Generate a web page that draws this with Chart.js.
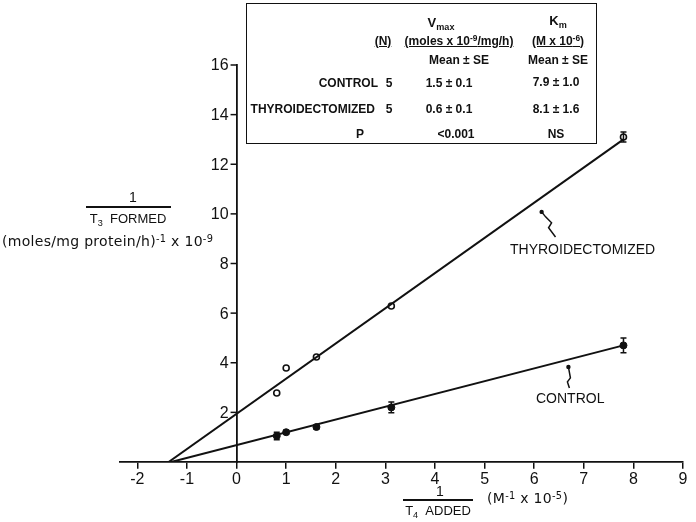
<!DOCTYPE html>
<html>
<head>
<meta charset="utf-8">
<script src="https://cdn.jsdelivr.net/npm/chart.js@4.4.1/dist/chart.umd.min.js"></script>
<style>
  body { margin: 0; background: #fff; }
  #wrap { position: relative; width: 696px; height: 522px; font-family: "Liberation Sans", Arial, sans-serif; color: #111; }
  canvas { position: absolute; left: 0; top: 0; }
  .t { position: absolute; white-space: nowrap; line-height: 1; }
  .b { font-weight: bold; font-size: 12px; }
  .c { transform: translateX(-50%); }
  .r { transform: translateX(-100%); }
  .u { text-decoration: underline; }
  .w { font-family: "DejaVu Sans", sans-serif; font-size: 14px; letter-spacing: 0.3px; }
  sup { font-size: 70%; vertical-align: 0.45em; line-height: 0; }
  sub { font-size: 70%; vertical-align: -0.3em; line-height: 0; }
  #table { position: absolute; left: 246px; top: 3px; width: 349px; height: 139px; border: 1.5px solid #111; }
  .bar { position: absolute; height: 1.5px; background: #111; }
</style>
</head>
<body>
<div id="wrap">
  <canvas id="chart" width="696" height="522"></canvas>

  <div id="table">
    <span class="t b c" style="left:194px;top:12px;font-size:13px">V<sub>max</sub></span>
    <span class="t b c" style="left:311px;top:10px;font-size:13px">K<sub>m</sub></span>
    <span class="t b c u" style="left:136px;top:31px">(N)</span>
    <span class="t b c" style="left:212px;top:31px"><span class="u">(moles x 10<sup>-9</sup>/mg/h)</span></span>
    <span class="t b c" style="left:311px;top:31px"><span class="u">(M x 10<sup>-6</sup>)</span></span>
    <span class="t b c" style="left:212px;top:50px">Mean ± SE</span>
    <span class="t b c" style="left:311px;top:50px">Mean ± SE</span>

    <span class="t b r" style="left:131px;top:73px">CONTROL</span>
    <span class="t b c" style="left:142px;top:73px">5</span>
    <span class="t b c" style="left:202px;top:73px">1.5 ± 0.1</span>
    <span class="t b c" style="left:309px;top:72px">7.9 ± 1.0</span>

    <span class="t b r" style="left:128px;top:99px">THYROIDECTOMIZED</span>
    <span class="t b c" style="left:142px;top:99px">5</span>
    <span class="t b c" style="left:202px;top:99px">0.6 ± 0.1</span>
    <span class="t b c" style="left:309px;top:99px">8.1 ± 1.6</span>

    <span class="t b c" style="left:113px;top:124px">P</span>
    <span class="t b c" style="left:209px;top:124px">&lt;0.001</span>
    <span class="t b c" style="left:309px;top:124px">NS</span>
  </div>

  <!-- y axis title -->
  <span class="t c" style="left:133px;top:190px;font-size:14px">1</span>
  <div class="bar" style="left:86px;top:206px;width:85px"></div>
  <span class="t c" style="left:128px;top:212px;font-size:13px">T<sub>3</sub>&nbsp;&nbsp;FORMED</span>
  <span class="t w" style="left:2px;top:234px">(moles/mg protein/h)<sup>-1</sup> x 10<sup>-9</sup></span>

  <!-- x axis title -->
  <span class="t c" style="left:440px;top:484px;font-size:14px">1</span>
  <div class="bar" style="left:403px;top:499px;width:70px"></div>
  <span class="t c" style="left:438px;top:504px;font-size:13px">T<sub>4</sub>&nbsp;&nbsp;ADDED</span>
  <span class="t w" style="left:487px;top:491px">(M<sup>-1</sup> x 10<sup>-5</sup>)</span>

  <!-- curve labels -->
  <span class="t" style="left:510px;top:242px;font-size:14px">THYROIDECTOMIZED</span>
  <span class="t" style="left:536px;top:391px;font-size:14px">CONTROL</span>
</div>

<script>
// Lineweaver-Burk data
const xTicks = [-2, -1, 0, 1, 2, 3, 4, 5, 6, 7, 8, 9];
const yTicks = [2, 4, 6, 8, 10, 12, 14, 16];

const thyroX = [0.81, 1.0, 1.61, 3.12, 7.8];
const thyroY = [2.78, 3.79, 4.23, 6.29, 13.1];
const thyroErr = [0, 0, 0, 0, 0.2];

const controlX = [0.81, 1.0, 1.61, 3.12, 7.8];
const controlY = [1.05, 1.2, 1.41, 2.2, 4.7];
const controlErr = [0.15, 0.08, 0.08, 0.22, 0.3];

// fitted regression lines (end points)
const thyroFitX = [-1.37, 7.8];
const thyroFitY = [0, 13.0];
const controlFitX = [-1.32, 7.8];
const controlFitY = [0, 4.7];

// squiggle pointers next to the curve labels
const thyroPointerX = [6.15, 6.23, 6.35, 6.29, 6.43];
const thyroPointerY = [10.08, 9.88, 9.64, 9.44, 9.07];
const controlPointerX = [6.69, 6.73, 6.67, 6.71];
const controlPointerY = [3.83, 3.39, 3.23, 2.98];

const ink = "#111";
const toXY = (xs, ys) => xs.map((x, i) => ({ x: x, y: ys[i] }));

// y axis sits at x = 0, so its ticks and labels are drawn here
const yAxisAtZero = {
  id: "yAxisAtZero",
  afterDraw(chart) {
    const { ctx, scales } = chart;
    const x0 = scales.x.getPixelForValue(0);
    ctx.save();
    ctx.strokeStyle = ink;
    ctx.fillStyle = ink;
    ctx.lineWidth = 1.5;
    ctx.font = "16px 'Liberation Sans'";
    ctx.textAlign = "right";
    ctx.textBaseline = "middle";
    yTicks.forEach((v) => {
      const py = scales.y.getPixelForValue(v);
      ctx.beginPath();
      ctx.moveTo(x0 - 6, py);
      ctx.lineTo(x0, py);
      ctx.stroke();
      ctx.fillText(String(v), x0 - 8, py + 1);
    });
    ctx.restore();
  }
};

const errorBars = {
  id: "errorBars",
  afterDatasetsDraw(chart) {
    const { ctx, scales } = chart;
    ctx.save();
    ctx.strokeStyle = ink;
    ctx.lineWidth = 1.5;
    const draw = (xs, ys, errs) => {
      xs.forEach((x, i) => {
        if (!errs[i]) return;
        const px = scales.x.getPixelForValue(x);
        const top = scales.y.getPixelForValue(ys[i] + errs[i]);
        const bot = scales.y.getPixelForValue(ys[i] - errs[i]);
        ctx.beginPath();
        ctx.moveTo(px, top); ctx.lineTo(px, bot);
        ctx.moveTo(px - 3, top); ctx.lineTo(px + 3, top);
        ctx.moveTo(px - 3, bot); ctx.lineTo(px + 3, bot);
        ctx.stroke();
      });
    };
    draw(thyroX, thyroY, thyroErr);
    draw(controlX, controlY, controlErr);

    // pointers
    const pointer = (xs, ys) => {
      ctx.beginPath();
      xs.forEach((x, i) => {
        const px = scales.x.getPixelForValue(x);
        const py = scales.y.getPixelForValue(ys[i]);
        if (i === 0) ctx.moveTo(px, py); else ctx.lineTo(px, py);
      });
      ctx.stroke();
      ctx.beginPath();
      ctx.arc(scales.x.getPixelForValue(xs[0]), scales.y.getPixelForValue(ys[0]), 2.2, 0, Math.PI * 2);
      ctx.fillStyle = ink;
      ctx.fill();
    };
    pointer(thyroPointerX, thyroPointerY);
    pointer(controlPointerX, controlPointerY);
    ctx.restore();
  }
};

const axisFont = { family: "Liberation Sans", size: 16 };

new Chart(document.getElementById("chart"), {
  type: "scatter",
  data: {
    datasets: [
      {
        data: toXY(thyroFitX, thyroFitY),
        showLine: true,
        borderColor: ink,
        borderWidth: 2,
        pointRadius: 0,
      },
      {
        data: toXY(controlFitX, controlFitY),
        showLine: true,
        borderColor: ink,
        borderWidth: 2,
        pointRadius: 0,
      },
      {
        data: toXY(thyroX, thyroY),
        pointRadius: 3,
        pointBorderWidth: 1.6,
        pointBorderColor: ink,
        pointBackgroundColor: "#fff",
      },
      {
        data: toXY(controlX, controlY),
        pointRadius: 3.5,
        pointBorderWidth: 1,
        pointBorderColor: ink,
        pointBackgroundColor: ink,
      },
    ],
  },
  options: {
    responsive: false,
    animation: false,
    layout: { padding: { left: 120, right: 13, top: 65, bottom: 60 } },
    plugins: {
      legend: { display: false },
      tooltip: { enabled: false },
    },
    scales: {
      x: {
        type: "linear",
        min: -2.35,
        max: 9,
        position: { y: 0 },
        afterBuildTicks: (scale) => {
          scale.ticks = xTicks.map((v) => ({ value: v }));
        },
        grid: { drawOnChartArea: false, drawTicks: true, tickLength: 6, color: ink, lineWidth: 1.5 },
        border: { display: true, color: ink, width: 1.8 },
        ticks: { font: axisFont, color: ink, padding: 2, maxRotation: 0 },
      },
      y: {
        type: "linear",
        min: 0,
        max: 16,
        position: { x: 0 },
        afterBuildTicks: (scale) => {
          scale.ticks = yTicks.map((v) => ({ value: v }));
        },
        grid: { drawOnChartArea: false, drawTicks: false },
        border: { display: true, color: ink, width: 1.8 },
        ticks: { display: false },
      },
    },
  },
  plugins: [errorBars, yAxisAtZero],
});
</script>
</body>
</html>
